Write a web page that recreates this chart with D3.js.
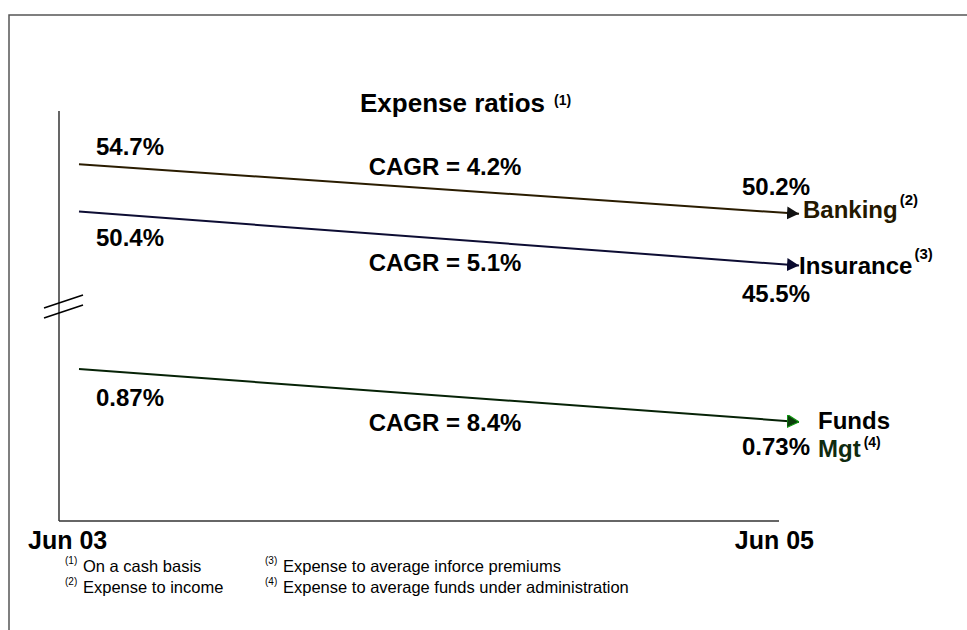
<!DOCTYPE html>
<html>
<head>
<meta charset="utf-8">
<script src="https://cdn.jsdelivr.net/npm/d3@7"></script>
<style>
  html, body { margin: 0; padding: 0; background: #fff; }
  svg { display: block; font-family: Arial, "Liberation Sans", Helvetica, sans-serif; }
</style>
</head>
<body>
<svg id="chart" width="967" height="630"></svg>
<script>
// Expense ratios, Jun 03 to Jun 05
const periods = ["Jun 03", "Jun 05"];
const seriesNames = ["Banking", "Insurance", "Funds Mgt"];
const banking = [54.7, 50.2];
const insurance = [50.4, 45.5];
const fundsMgt = [0.87, 0.73];
const cagr = [4.2, 5.1, 8.4];
const valueLabels = [["54.7%", "50.2%"], ["50.4%", "45.5%"], ["0.87%", "0.73%"]];
const noteMarks = ["(2)", "(3)", "(4)"];
const footnotes = [
  ["(1)", "On a cash basis"],
  ["(2)", "Expense to income"],
  ["(3)", "Expense to average inforce premiums"],
  ["(4)", "Expense to average funds under administration"]
];

const svg = d3.select("#chart");

// outer frame (open at right and bottom)
svg.append("path")
  .attr("d", "M9,630 V15 H967")
  .attr("fill", "none")
  .attr("stroke", "#555")
  .attr("stroke-width", 1.5);

// x positions of the two periods
const x = d3.scalePoint().domain(periods).range([79, 799]);

// broken y axis: upper segment for percentages in the 40s/50s, lower one for fund ratios
const yUpper = d3.scaleLinear().domain([44, 58]).range([282, 128]);
const yLower = d3.scaleLinear().domain([0.6, 1.0]).range([471, 320]);

const series = [
  { name: seriesNames[0], values: banking, y: yUpper, stroke: "#2a1c00", head: "#111", headStroke: "#111",
    labelColor: "#241800", startDy: -9, endDy: -19, cagrDy: -14, nameDx: 4, nameDy: 4, note: noteMarks[0], noteDy: -13 },
  { name: seriesNames[1], values: insurance, y: yUpper, stroke: "#0d0d33", head: "#0a0a2e", headStroke: "#0a0a2e",
    labelColor: "#000", startDy: 34, endDy: 36, cagrDy: 32, nameDx: 0, nameDy: 8, note: noteMarks[1], noteDy: -15 },
  { name: seriesNames[2], values: fundsMgt, y: yLower, stroke: "#062206", head: "#0b3d0b", headStroke: "#129a12",
    labelColor: "#000", startDy: 37, endDy: 33, cagrDy: 35, nameDx: 19, nameDy: 7, note: noteMarks[2], noteDy: -10 }
];

// axes
const axisG = svg.append("g");
axisG.append("line")
  .attr("x1", 59).attr("x2", 59).attr("y1", 111).attr("y2", 521)
  .attr("stroke", "#000").attr("stroke-width", 1.2);
axisG.append("line")
  .attr("x1", 59).attr("x2", 779).attr("y1", 521).attr("y2", 521)
  .attr("stroke", "#333").attr("stroke-width", 1.6);

// axis break marks
[0, 10].forEach(off => {
  axisG.append("line")
    .attr("x1", 44).attr("y1", 308 + off).attr("x2", 83).attr("y2", 295 + off)
    .attr("stroke", "#000").attr("stroke-width", 1.5);
});

// x tick labels
svg.append("text").attr("x", 28).attr("y", 549)
  .attr("font-size", 25).attr("font-weight", "bold").text(periods[0]);
svg.append("text").attr("x", 814).attr("y", 549).attr("text-anchor", "end")
  .attr("font-size", 25).attr("font-weight", "bold").text(periods[1]);

// arrow heads
const defs = svg.append("defs");
series.forEach((s, i) => {
  defs.append("marker")
    .attr("id", "arrow" + i)
    .attr("markerUnits", "userSpaceOnUse")
    .attr("viewBox", "0 0 12 13")
    .attr("refX", 12).attr("refY", 6.5)
    .attr("markerWidth", 12).attr("markerHeight", 13)
    .attr("orient", "auto")
    .append("path")
    .attr("d", "M0,0 L12,6.5 L0,13 Z")
    .attr("fill", s.head)
    .attr("stroke", s.headStroke)
    .attr("stroke-width", i === 2 ? 1.2 : 0);
});

const line = d3.line();

series.forEach((s, i) => {
  const pts = periods.map((p, j) => [x(p), s.y(s.values[j])]);
  const g = svg.append("g");

  g.append("path")
    .attr("d", line(pts))
    .attr("fill", "none")
    .attr("stroke", s.stroke)
    .attr("stroke-width", 2)
    .attr("marker-end", "url(#arrow" + i + ")");

  // start / end value labels
  g.append("text")
    .attr("x", pts[0][0] + 17).attr("y", pts[0][1] + s.startDy)
    .attr("font-size", 24).attr("font-weight", "bold").attr("fill", "#000")
    .text(valueLabels[i][0]);
  g.append("text")
    .attr("x", pts[1][0] + 11).attr("y", pts[1][1] + s.endDy)
    .attr("text-anchor", "end")
    .attr("font-size", 24).attr("font-weight", "bold").attr("fill", "#000")
    .text(valueLabels[i][1]);

  // growth rate label near the middle of each line
  const mx = (pts[0][0] + pts[1][0]) / 2;
  const my = (pts[0][1] + pts[1][1]) / 2;
  g.append("text")
    .attr("x", mx + 6).attr("y", my + s.cagrDy)
    .attr("text-anchor", "middle")
    .attr("font-size", 24).attr("font-weight", "bold").attr("fill", "#000")
    .text("CAGR = " + cagr[i].toFixed(1) + "%");

  // series name with footnote mark
  const nx = pts[1][0] + s.nameDx;
  const ny = pts[1][1] + s.nameDy;
  if (i === 2) {
    // two-line name kept in one text element
    const words = s.name.split(" ");
    const t = g.append("text").attr("x", nx).attr("y", ny)
      .attr("font-size", 24).attr("font-weight", "bold").attr("fill", "#000");
    t.append("tspan").attr("x", nx).attr("y", ny).text(words[0]);
    t.append("tspan").attr("x", nx).attr("y", ny + 28).attr("fill", "#0f2a0f").text(words[1]);
    t.append("tspan").attr("dx", 3).attr("dy", s.noteDy)
      .attr("font-size", 14).attr("fill", "#000").text(s.note);
  } else {
    const t = g.append("text").attr("x", nx).attr("y", ny)
      .attr("font-size", 24).attr("font-weight", "bold").attr("fill", s.labelColor)
      .text(s.name);
    t.append("tspan").attr("dx", 2).attr("dy", s.noteDy)
      .attr("font-size", 15).attr("fill", "#000").text(s.note);
  }
});

// title
const title = svg.append("text").attr("x", 360).attr("y", 112)
  .attr("font-size", 26).attr("font-weight", "bold").attr("fill", "#000")
  .text("Expense ratios");
title.append("tspan").attr("dx", 9).attr("dy", -7)
  .attr("font-size", 14).text("(1)");

// footnotes in two columns
footnotes.forEach((f, i) => {
  const col = Math.floor(i / 2);
  const row = i % 2;
  const bx = col === 0 ? 65 : 265;
  const by = 572 + row * 21;
  svg.append("text").attr("x", bx).attr("y", by - 8)
    .attr("font-size", 10).attr("fill", "#000").text(f[0]);
  svg.append("text").attr("x", bx + 18).attr("y", by)
    .attr("font-size", 16.5).attr("fill", "#000").text(f[1]);
});
</script>
</body>
</html>
